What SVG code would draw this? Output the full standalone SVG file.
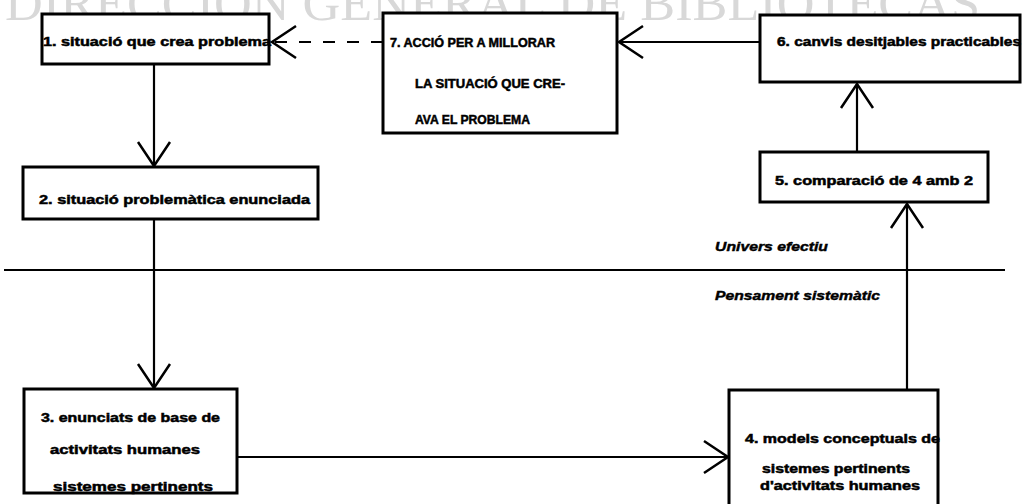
<svg xmlns="http://www.w3.org/2000/svg" width="1035" height="504" viewBox="0 0 1035 504">
<style>
.box{fill:#fff;stroke:#000;stroke-width:3}
.t{font-family:"Liberation Sans",Arial,sans-serif;font-weight:bold;font-size:12.5px;fill:#000;stroke:#000;stroke-width:0.5}
.lab{font-family:"Liberation Sans",Arial,sans-serif;font-weight:bold;font-style:italic;font-size:12px;fill:#000;stroke:#000;stroke-width:0.4}
.c{stroke:#000;stroke-width:2.2;fill:none}
.wm{font-family:"Liberation Serif","Times New Roman",serif;font-size:50px;fill:#d8d8d8}
</style>
<defs>
<marker id="ah" markerUnits="userSpaceOnUse" viewBox="-28 -20 32 40" refX="0" refY="0" markerWidth="32" markerHeight="40" orient="auto">
<path d="M-24,-16 L0,0 L-24,16" fill="none" stroke="#000" stroke-width="2.5"/>
</marker>
</defs>
<rect width="1035" height="504" fill="#fff"/>
<text class="wm" x="5" y="20" textLength="975" lengthAdjust="spacingAndGlyphs">DIRECCIÓN GENERAL DE BIBLIOTECAS</text>
<g id="connectors">
<line class="c" x1="154" y1="64" x2="154" y2="166" marker-end="url(#ah)"/>
<line class="c" x1="154" y1="219" x2="154" y2="388" marker-end="url(#ah)"/>
<line class="c" x1="237" y1="457" x2="728" y2="457" marker-end="url(#ah)"/>
<line class="c" x1="907" y1="390" x2="907" y2="204" marker-end="url(#ah)"/>
<line class="c" x1="857" y1="152" x2="857" y2="84" marker-end="url(#ah)"/>
<line class="c" x1="759" y1="42" x2="619" y2="42" marker-end="url(#ah)"/>
<line class="c" x1="383" y1="42" x2="272" y2="42" stroke-dasharray="12 12" marker-end="url(#ah)"/>
</g>
<g id="divider">
<line x1="4" y1="270" x2="1005" y2="270" stroke="#000" stroke-width="2"/>
<text class="lab" x="715" y="251" textLength="113" lengthAdjust="spacingAndGlyphs">Univers efectiu</text>
<text class="lab" x="715" y="300" textLength="165" lengthAdjust="spacingAndGlyphs">Pensament sistemàtic</text>
</g>
<g id="n1">
<rect class="box" x="42" y="14" width="227" height="50"/>
<text class="t" x="43" y="46" textLength="228" lengthAdjust="spacingAndGlyphs">1. situació que crea problema</text>
</g>
<g id="n7">
<rect class="box" x="383" y="13" width="234" height="120"/>
<text class="t" x="390" y="47" textLength="165" lengthAdjust="spacingAndGlyphs">7. ACCIÓ PER A MILLORAR</text>
<text class="t" x="415" y="88" textLength="150" lengthAdjust="spacingAndGlyphs">LA SITUACIÓ QUE CRE-</text>
<text class="t" x="415" y="124" textLength="115" lengthAdjust="spacingAndGlyphs">AVA EL PROBLEMA</text>
</g>
<g id="n6">
<rect class="box" x="760" y="15" width="260" height="67"/>
<text class="t" x="777" y="46" textLength="244" lengthAdjust="spacingAndGlyphs">6. canvis desitjables practicables</text>
</g>
<g id="n2">
<rect class="box" x="23" y="167" width="295" height="52"/>
<text class="t" x="39" y="204" textLength="271" lengthAdjust="spacingAndGlyphs">2. situació problemàtica enunciada</text>
</g>
<g id="n5">
<rect class="box" x="760" y="152" width="228" height="50"/>
<text class="t" x="775" y="185" textLength="198" lengthAdjust="spacingAndGlyphs">5. comparació de 4 amb 2</text>
</g>
<g id="n3">
<rect class="box" x="24" y="389" width="213" height="104"/>
<text class="t" x="41" y="422" textLength="179" lengthAdjust="spacingAndGlyphs">3. enunciats de base de</text>
<text class="t" x="50" y="454" textLength="150" lengthAdjust="spacingAndGlyphs">activitats humanes</text>
<text class="t" x="53" y="491" textLength="160" lengthAdjust="spacingAndGlyphs">sistemes pertinents</text>
</g>
<g id="n4">
<rect class="box" x="729" y="390" width="209" height="130"/>
<text class="t" x="745" y="443" textLength="195" lengthAdjust="spacingAndGlyphs">4. models conceptuals de</text>
<text class="t" x="762" y="473" textLength="148" lengthAdjust="spacingAndGlyphs">sistemes pertinents</text>
<text class="t" x="760" y="490" textLength="160" lengthAdjust="spacingAndGlyphs">d'activitats humanes</text>
</g>
</svg>
